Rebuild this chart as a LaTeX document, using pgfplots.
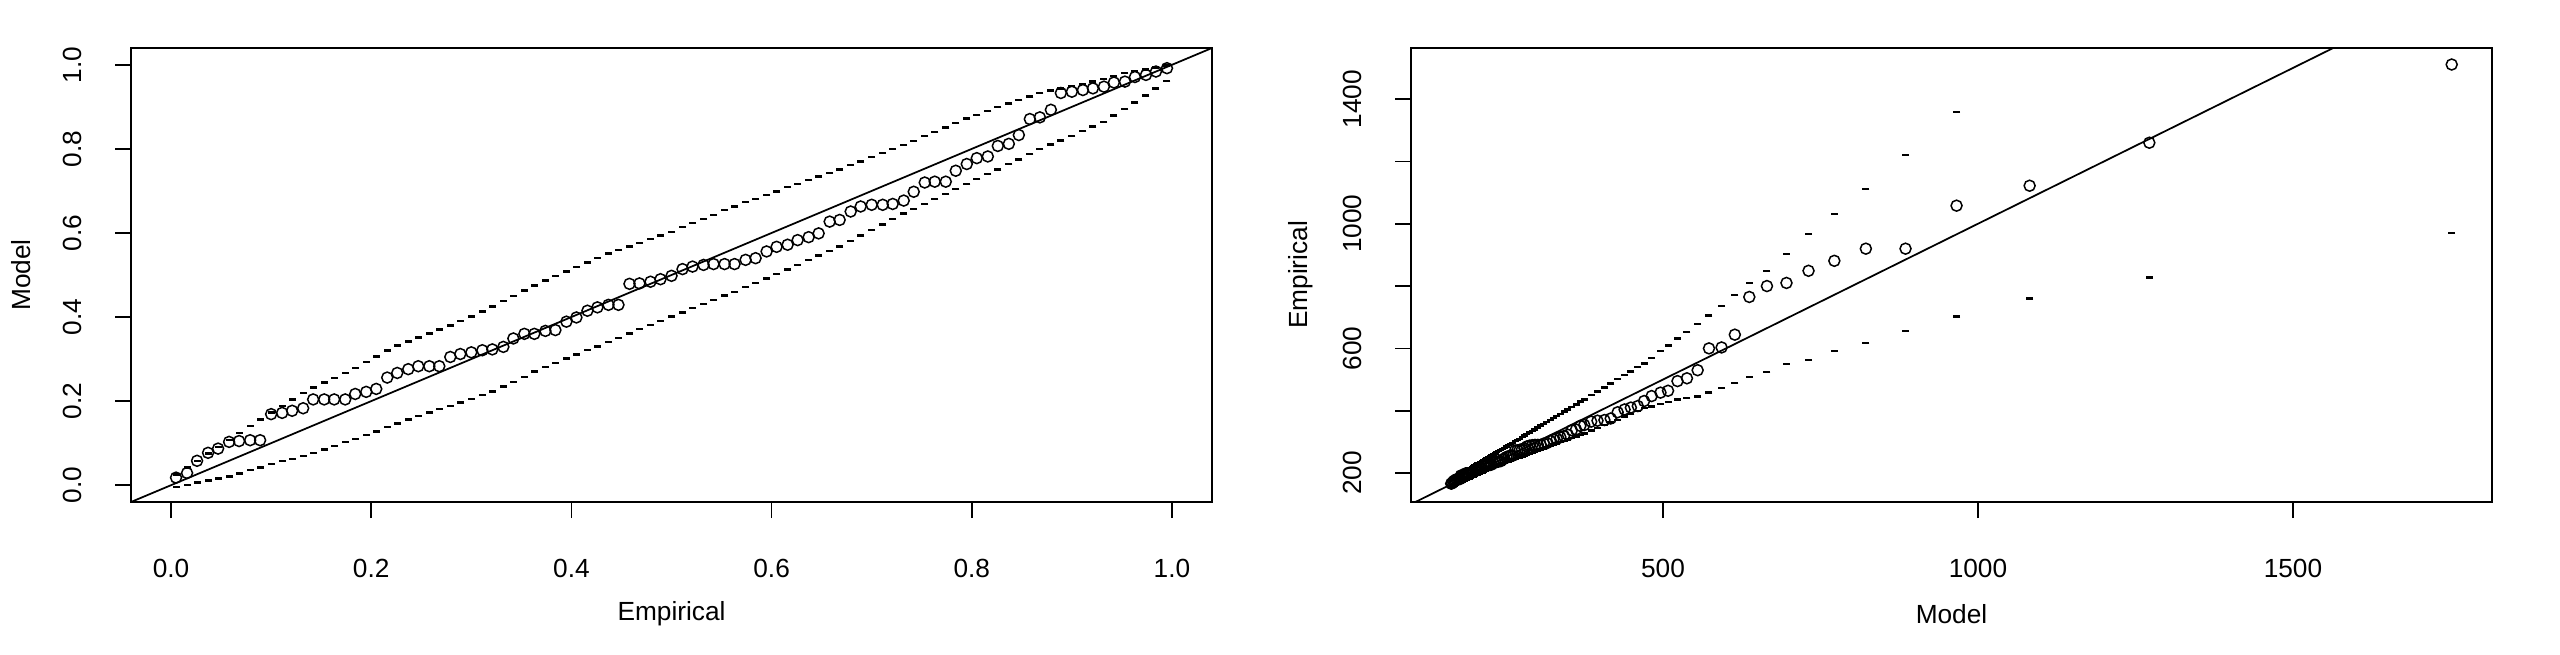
\documentclass[border=0pt]{standalone}
\usepackage{fontspec}
\setmainfont{Liberation Sans}
\usepackage{pgfplots}
\usepackage{pgfplotstable}
\pgfplotsset{compat=1.18}

% probability plot: empirical p, model F(x), lower and upper band
\pgfplotstableread{
emp model lo hi
0.005 0.018 -0.004 0.025
0.016 0.029 0.001 0.042
0.026 0.058 0.006 0.058
0.037 0.077 0.011 0.075
0.047 0.087 0.016 0.091
0.058 0.103 0.021 0.108
0.068 0.105 0.028 0.124
0.079 0.107 0.036 0.141
0.089 0.107 0.042 0.156
0.100 0.169 0.050 0.173
0.111 0.172 0.057 0.189
0.121 0.177 0.063 0.204
0.132 0.183 0.070 0.220
0.142 0.204 0.077 0.232
0.153 0.204 0.085 0.244
0.163 0.204 0.093 0.255
0.174 0.204 0.102 0.267
0.184 0.217 0.110 0.279
0.195 0.222 0.119 0.293
0.205 0.229 0.128 0.306
0.216 0.256 0.138 0.320
0.226 0.267 0.147 0.332
0.237 0.276 0.156 0.342
0.247 0.283 0.164 0.351
0.258 0.283 0.173 0.361
0.268 0.283 0.181 0.370
0.279 0.305 0.189 0.380
0.289 0.312 0.197 0.390
0.300 0.316 0.205 0.401
0.311 0.321 0.214 0.413
0.321 0.323 0.223 0.425
0.332 0.329 0.235 0.438
0.342 0.349 0.246 0.450
0.353 0.360 0.258 0.463
0.363 0.360 0.270 0.475
0.374 0.367 0.281 0.487
0.384 0.369 0.290 0.497
0.395 0.389 0.301 0.508
0.405 0.399 0.311 0.519
0.416 0.415 0.321 0.530
0.426 0.423 0.330 0.541
0.437 0.429 0.341 0.551
0.447 0.429 0.350 0.559
0.458 0.479 0.361 0.568
0.468 0.480 0.371 0.576
0.479 0.484 0.381 0.586
0.489 0.490 0.390 0.594
0.500 0.498 0.401 0.603
0.511 0.514 0.411 0.614
0.521 0.520 0.421 0.623
0.532 0.524 0.431 0.633
0.542 0.526 0.440 0.643
0.553 0.526 0.451 0.654
0.563 0.526 0.460 0.663
0.574 0.536 0.471 0.673
0.584 0.540 0.481 0.681
0.595 0.556 0.492 0.690
0.605 0.567 0.502 0.699
0.616 0.572 0.513 0.709
0.626 0.583 0.524 0.717
0.637 0.590 0.535 0.726
0.647 0.599 0.546 0.734
0.658 0.627 0.557 0.742
0.668 0.631 0.568 0.751
0.679 0.651 0.581 0.761
0.689 0.663 0.594 0.770
0.700 0.667 0.607 0.780
0.711 0.667 0.620 0.790
0.721 0.669 0.633 0.799
0.732 0.677 0.646 0.809
0.742 0.698 0.657 0.819
0.753 0.720 0.669 0.830
0.763 0.722 0.681 0.840
0.774 0.722 0.693 0.851
0.784 0.748 0.704 0.861
0.795 0.764 0.716 0.872
0.805 0.778 0.728 0.881
0.816 0.782 0.740 0.890
0.826 0.807 0.751 0.899
0.837 0.812 0.764 0.908
0.847 0.833 0.775 0.916
0.858 0.871 0.788 0.925
0.868 0.875 0.799 0.933
0.879 0.893 0.810 0.939
0.889 0.933 0.820 0.944
0.900 0.936 0.831 0.950
0.911 0.940 0.843 0.955
0.921 0.944 0.853 0.960
0.932 0.948 0.864 0.966
0.942 0.958 0.879 0.973
0.953 0.960 0.895 0.981
0.963 0.971 0.910 0.985
0.974 0.976 0.927 0.989
0.984 0.984 0.944 0.994
0.995 0.992 0.962 0.998
}\probtab

% quantile plot: model quantile, empirical value, lower and upper band
\pgfplotstableread{
model emp lo hi
163.8 165.8 156 179
165.4 167.5 157 181
167.1 172.2 159 183
168.7 175.3 160 185
170.4 177.0 162 187
172.1 179.8 164 189
173.9 180.1 165 191
175.7 180.5 167 193
177.4 180.5 169 195
179.3 191.9 170 198
181.1 192.5 172 200
183.0 193.5 174 202
184.9 194.7 176 205
186.8 198.9 177 207
188.8 198.9 179 209
190.8 198.9 181 212
192.8 198.9 183 214
194.9 201.6 185 217
197.0 202.6 187 219
199.2 204.1 189 222
201.3 210.0 191 224
203.5 212.5 193 227
205.8 214.5 195 230
208.1 216.2 197 233
210.4 216.2 200 235
212.8 216.2 202 238
215.2 221.4 204 241
217.7 223.2 207 244
220.2 224.2 209 247
222.8 225.4 211 250
225.4 225.9 214 253
228.1 227.4 216 257
230.8 232.6 219 260
233.6 235.6 221 263
236.4 235.6 223 267
239.4 237.5 226 270
242.3 238.1 228 274
245.4 243.7 230 278
248.5 246.6 232 281
251.7 251.4 235 285
254.9 253.9 237 289
258.3 255.8 240 293
261.7 255.8 242 297
265.2 272.5 245 302
268.8 272.8 248 306
272.5 274.3 250 310
276.2 276.4 253 315
280.1 279.4 256 320
284.1 285.4 259 325
288.2 287.8 262 330
292.4 289.4 265 335
296.8 290.2 269 340
301.3 290.2 272 346
305.9 290.2 276 352
310.7 294.3 279 358
315.6 295.9 283 364
320.7 302.7 287 370
326.0 307.6 291 376
331.4 309.9 295 383
337.1 315.0 299 390
342.9 318.4 303 397
349.0 322.8 308 404
355.3 337.4 312 412
361.9 339.6 317 420
368.8 351.2 322 429
375 354 327 436
386 365 336 450
396 368 345 462
407 370 354 475
417 375 362 487
428 395 371 501
439 404 381 514
449 410 389 526
460 415 399 540
470 431 408 552
482 447 414 570
496 458 422 591
508 464 428 609
523 495 436 632
538 504 441 652
555 530 445 678
573 600 458 705
593 603 472 737
614 644 488 771
637 765 509 810
665 800 525 849
696 810 549 903
731 849 563 967
772 881 592 1031
822 920 618 1111
885 920 656 1220
966 1058 702 1359
1082 1122 760 nan
1272 1260 827 nan
1752 1511 971 nan
}\quanttab

\pgfplotsset{
  rplot/.style={
    scale only axis, width=432.4pt, height=181.6pt, anchor=south west,
    axis line style={line width=1pt},
    tick pos=left, tick align=outside, major tick length=6.4pt,
    major tick style={line width=0.7pt, black},
    tick label style={font=\fontsize{10.5}{12}\selectfont},
    label style={font=\fontsize{10.5}{12}\selectfont},
    xticklabel style={anchor=center, yshift=-20pt},
    yticklabel style={anchor=center, xshift=-17.2pt, rotate=90},
    xlabel style={at={(axis description cs:0.5,-0.247)}, anchor=center},
    ylabel style={at={(axis description cs:-0.102,0.5)}, anchor=center},
    clip=true,
  },
  pts/.style={only marks, mark=o, mark size=2.2pt, mark options={line width=0.6pt}, black},
  band/.style={only marks, mark=-, mark size=1.4pt, mark options={line width=0.95pt}, black},
}

\begin{document}
\begin{tikzpicture}[x=1pt,y=1pt]
\path[use as bounding box] (0,0) rectangle (1024,262);

\begin{axis}[rplot, at={(52.4pt,61.2pt)},
  xmin=-0.04, xmax=1.04, ymin=-0.04, ymax=1.04,
  xtick={0,0.2,0.4,0.6,0.8,1}, xticklabels={0.0,0.2,0.4,0.6,0.8,1.0},
  ytick={0,0.2,0.4,0.6,0.8,1}, yticklabels={0.0,0.2,0.4,0.6,0.8,1.0},
  xlabel={Empirical}, ylabel={Model}]
\addplot[line width=0.7pt, black, no marks] coordinates {(-0.04,-0.04) (1.04,1.04)};
\addplot[band] table[x=emp, y=lo] {\probtab};
\addplot[band] table[x=emp, y=hi] {\probtab};
\addplot[pts] table[x=emp, y=model] {\probtab};
\end{axis}

\begin{axis}[rplot, at={(564.4pt,61.2pt)},
  xmin=100, xmax=1816, ymin=107, ymax=1564,
  xtick={500,1000,1500}, xticklabels={500,1000,1500},
  ytick={200,400,600,800,1000,1200,1400}, yticklabels={200,,600,,1000,,1400},
  xlabel={Model}, ylabel={Empirical}]
\addplot[line width=0.7pt, black, no marks] coordinates {(100,100) (1816,1816)};
\addplot[band] table[x=model, y=lo] {\quanttab};
\addplot[band] table[x=model, y=hi] {\quanttab};
\addplot[pts] table[x=model, y=emp] {\quanttab};
\end{axis}
\end{tikzpicture}
\end{document}
